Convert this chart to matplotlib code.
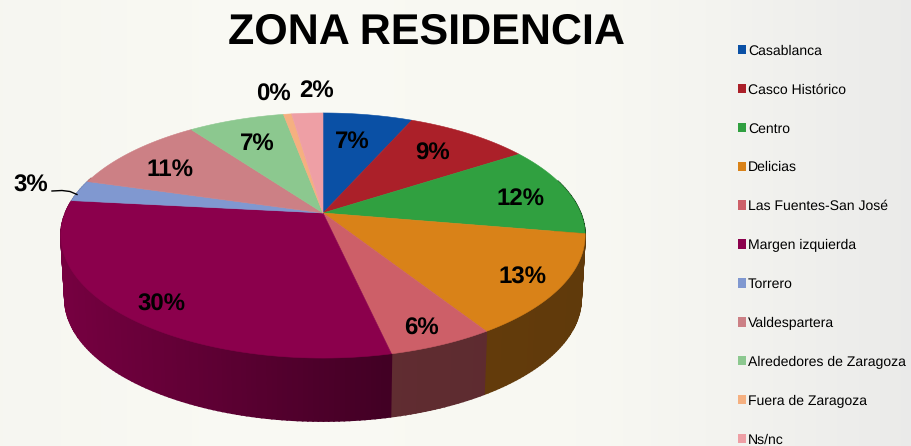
import numpy as np
import matplotlib
matplotlib.use("Agg")
import matplotlib.pyplot as plt
from matplotlib.colors import to_rgb
from matplotlib.patches import Patch

plt.rcParams["text.hinting"] = "no_hinting"
plt.rcParams["text.hinting_factor"] = 1

# zonas y porcentajes
zonas = ["Casablanca", "Casco Histórico", "Centro", "Delicias", "Las Fuentes-San José",
         "Margen izquierda", "Torrero", "Valdespartera", "Alrededores de Zaragoza",
         "Fuera de Zaragoza", "Ns/nc"]
valores = [6.6, 9.2, 11.9, 13.3, 5.5, 30.2, 2.8, 10.5, 7.1, 0.6, 2.3]
etiquetas = ["7%", "9%", "12%", "13%", "6%", "30%", "3%", "11%", "7%", "0%", "2%"]
colores = ["#0a50a5", "#ab2029", "#30a040", "#d98218", "#cd5f68", "#8b004c",
           "#8098d0", "#cc8085", "#8cc88f", "#f5b080", "#ee9fa5"]

# sitio de cada etiqueta en pixeles
pos_etiquetas = [(352, 142), (433, 153.5), (520, 199), (523, 277.5), (421, 328.5), (161, 304.5),
                 (31, 186), (170, 170), (257, 144), (273, 94.5), (317, 91)]

FONT = "Liberation Sans"
CX, CY = 323, 213      # vertice de la tarta
A, B, P = 257.6, 118.4, 0.1837   # escala y perspectiva
DEPTH = 63


def proyecta(theta):
    # circulo unidad -> pantalla con perspectiva
    x = np.sin(theta)
    y = np.cos(theta)
    d = 1 + P * y
    return CX + A * x / d, CY - B * y / d


def sombra(x):
    # lado oscuro a la derecha, algo mas claro a la izquierda
    return np.interp(x, [60, 390, 600], [0.85, 0.47, 0.44])


fig = plt.figure(figsize=(9.11, 4.46), dpi=100)
ax = fig.add_axes([0, 0, 1, 1])
ax.set_xlim(0, 911)
ax.set_ylim(446, 0)
ax.axis("off")

# fondo
px = np.linspace(0, 911, 456)
fondo = np.stack([np.interp(px, [0, 250, 600, 720, 911], [v0, v1, v2, v3, v4])
                  for v0, v1, v2, v3, v4 in [(0.965, 0.98, 0.972, 0.955, 0.92),
                                             (0.965, 0.98, 0.972, 0.955, 0.92),
                                             (0.945, 0.955, 0.95, 0.94, 0.915)]], axis=-1)
ax.imshow(fondo[np.newaxis, :, :], extent=(0, 911, 446, 0), aspect="auto", interpolation="bilinear", zorder=0)

fin = np.cumsum(valores) / np.sum(valores) * 2 * np.pi
ini = np.concatenate(([0], fin[:-1]))

# lateral
for a, b, c in zip(ini, fin, colores):
    n = max(int((b - a) * 60), 2)
    t = np.linspace(a, b, n + 1)
    xs, ys = proyecta(t)
    base = np.array(to_rgb(c))
    for i in range(n):
        if np.cos(t[i]) > 0.3:
            continue
        xb = CX + (np.array([xs[i + 1], xs[i]]) - CX) * 0.985
        yb = np.array([ys[i + 1], ys[i]]) + DEPTH
        col = base * sombra((xs[i] + xs[i + 1]) / 2)
        ax.fill([xs[i], xs[i + 1], xb[0], xb[1]], [ys[i], ys[i + 1], yb[0], yb[1]],
                color=col, lw=1.2, zorder=2)

# tapa
for a, b, c in zip(ini, fin, colores):
    t = np.linspace(a, b, 80)
    xs, ys = proyecta(t)
    ax.fill(np.r_[CX, xs], np.r_[CY, ys], color=c, lw=0.4, zorder=3)

for txt, (x, y) in zip(etiquetas, pos_etiquetas):
    ax.text(x, y, txt, ha="center", va="center", fontsize=17.3, fontweight="bold",
            family=FONT, color="black", zorder=5)

# guia del 3%
ax.plot([52, 62, 70, 77], [191, 190.5, 191.5, 194.5], color="black", lw=1, zorder=4)

ax.text(426, 32, "ZONA RESIDENCIA", ha="center", va="center", fontsize=31,
        fontweight="bold", family=FONT, color="black")

handles = [Patch(facecolor=c, edgecolor="none") for c in colores]
ax.legend(handles, zonas, loc="upper left", bbox_to_anchor=(737.5 / 911, 1 - 44.5 / 446),
          frameon=False, prop={"family": FONT, "size": 10.4}, labelspacing=1.79,
          handlelength=0.62, handleheight=0.62, handletextpad=0.1, borderpad=0, borderaxespad=0)

fig.savefig("out.png", dpi=100)
